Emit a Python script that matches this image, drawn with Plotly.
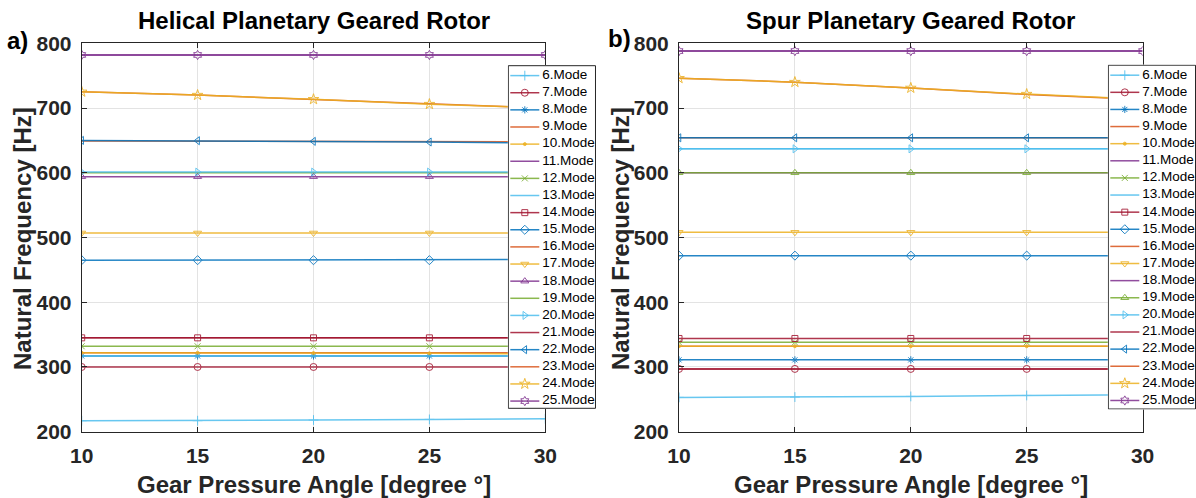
import plotly.graph_objects as go

W, H = 1196, 498

# Gear pressure angle samples [degree]
angles = [10, 15, 20, 25, 30]
mode_numbers = list(range(6, 26))

# Natural frequencies [Hz] - helical planetary geared rotor
helical_mode06 = [217, 217, 218, 219, 220]
helical_mode07 = [300, 300, 300, 300, 300]
helical_mode08 = [317, 317, 317, 317, 317]
helical_mode09 = [322, 322, 322, 322, 322]
helical_mode10 = [322, 322, 321.5, 321, 320]
helical_mode11 = [782, 782, 782, 782, 782]
helical_mode12 = [332, 332, 332, 332, 332]
helical_mode13 = [317, 317, 317, 317, 317]
helical_mode14 = [345, 345, 345, 345, 345]
helical_mode15 = [465, 465, 465, 465, 466]
helical_mode16 = [649, 649, 649, 648, 648]
helical_mode17 = [507, 507, 507, 507, 507]
helical_mode18 = [594, 594, 594, 594, 594]
helical_mode19 = [600, 600, 600, 600, 600]
helical_mode20 = [601, 601, 601, 601, 601]
helical_mode21 = [345, 345, 345, 345, 345]
helical_mode22 = [650, 649.5, 648.5, 647.5, 646]
helical_mode23 = [725, 720, 713, 706, 700]
helical_mode24 = [725, 720, 713.5, 706, 700]
helical_mode25 = [782, 782, 782, 782, 782]

# Natural frequencies [Hz] - spur planetary geared rotor
spur_mode06 = [253, 253.5, 254.5, 256, 257]
spur_mode07 = [297, 297, 297, 297, 297]
spur_mode08 = [311, 311, 311, 311, 311]
spur_mode09 = [332, 332, 332, 332, 332]
spur_mode10 = [332, 332, 332, 332, 332]
spur_mode11 = [788, 788, 788, 788, 788]
spur_mode12 = [338, 338, 338, 338, 338]
spur_mode13 = [637, 637, 637, 637, 637]
spur_mode14 = [344, 344, 344, 344, 344]
spur_mode15 = [472, 472, 472, 472, 472]
spur_mode16 = [654, 654, 654, 654, 654]
spur_mode17 = [508, 508, 508, 508, 508]
spur_mode18 = [600, 600, 600, 600, 600]
spur_mode19 = [600, 600, 600, 600, 600]
spur_mode20 = [637, 637, 637, 637, 637]
spur_mode21 = [297, 297, 297, 297, 297]
spur_mode22 = [654, 654, 654, 654, 654]
spur_mode23 = [746, 740, 731, 721, 713]
spur_mode24 = [746, 740, 731, 721.5, 713.5]
spur_mode25 = [788, 788, 788, 788, 788]

helical = [helical_mode06, helical_mode07, helical_mode08, helical_mode09, helical_mode10,
           helical_mode11, helical_mode12, helical_mode13, helical_mode14, helical_mode15,
           helical_mode16, helical_mode17, helical_mode18, helical_mode19, helical_mode20,
           helical_mode21, helical_mode22, helical_mode23, helical_mode24, helical_mode25]
spur = [spur_mode06, spur_mode07, spur_mode08, spur_mode09, spur_mode10,
        spur_mode11, spur_mode12, spur_mode13, spur_mode14, spur_mode15,
        spur_mode16, spur_mode17, spur_mode18, spur_mode19, spur_mode20,
        spur_mode21, spur_mode22, spur_mode23, spur_mode24, spur_mode25]

# Line colours cycle (MATLAB palette, starting at light blue)
palette = ["#4DBEEE", "#A2142F", "#0072BD", "#D95319", "#EDB120", "#7E2F8E", "#77AC30"]
colors = [palette[i % 7] for i in range(20)]

# Marker codes per mode (None = plain line)
markers_helical = ["+", "o", "*", None, ".", None, "x", None, "s", "d",
                   None, "v", "^", None, ">", None, "<", None, "p", "h"]
markers_spur = ["+", "o", "*", None, ".", None, "x", None, "s", "d",
                None, "v", None, "^", ">", None, "<", None, "p", "h"]

symbol_map = {
    "+": ("cross-thin-open", 7), "o": ("circle-open", 7), "*": ("asterisk-open", 6),
    ".": ("circle", 3), "x": ("x-thin-open", 6), "s": ("square-open", 6),
    "d": ("diamond-open", 7), "v": ("triangle-down-open", 7), "^": ("triangle-up-open", 7),
    ">": ("triangle-right-open", 7), "<": ("triangle-left-open", 7),
    "p": ("star-open", 8), "h": ("hexagram-open", 7),
}

FONT = "Liberation Sans"
AXCOL = "#262626"


def px_x(p):
    return p / W


def px_y(p):
    return 1 - p / H


fig = go.Figure()


def marker_style(code, color):
    if code is None:
        return dict(size=1, opacity=0), "lines"
    sym, size = symbol_map[code]
    return dict(symbol=sym, size=size, color=color, line=dict(color=color, width=1)), "lines+markers"


def add_panel(values, markers, xa, ya):
    for i, series in enumerate(values):
        mk, mode = marker_style(markers[i], colors[i])
        fig.add_trace(go.Scatter(
            x=angles, y=series, mode=mode, name=f"{mode_numbers[i]}.Mode",
            line=dict(color=colors[i], width=1.5), marker=mk, opacity=0.85,
            xaxis=xa, yaxis=ya, showlegend=False, cliponaxis=True,
        ))


add_panel(helical, markers_helical, "x", "y")
add_panel(spur, markers_spur, "x2", "y2")


def add_legend_box(markers, xa, ya, box, first_y, step):
    x0, y0, x1, y1 = box
    fig.add_trace(go.Scatter(
        x=[x0, x1, x1, x0, x0], y=[y0, y0, y1, y1, y0], mode="lines",
        fill="toself", fillcolor="white", line=dict(color=AXCOL, width=1),
        xaxis=xa, yaxis=ya, showlegend=False, hoverinfo="skip",
    ))
    for i in range(20):
        yy = first_y + i * step
        mk, mode = marker_style(markers[i], colors[i])
        fig.add_trace(go.Scatter(
            x=[x0 + 2, x0 + 31], y=[yy, yy], mode="lines",
            line=dict(color=colors[i], width=1.5), opacity=0.85,
            xaxis=xa, yaxis=ya, showlegend=False, hoverinfo="skip",
        ))
        if markers[i] is not None:
            fig.add_trace(go.Scatter(
                x=[x0 + 16.5], y=[yy], mode="markers", marker=mk, opacity=0.85,
                xaxis=xa, yaxis=ya, showlegend=False, hoverinfo="skip", cliponaxis=False,
            ))
    fig.add_trace(go.Scatter(
        x=[x0 + 34] * 20, y=[first_y + i * step for i in range(20)], mode="text",
        text=[f"{m}.Mode" for m in mode_numbers], textposition="middle right",
        textfont=dict(family=FONT, size=13.5, color="black"),
        xaxis=xa, yaxis=ya, showlegend=False, hoverinfo="skip", cliponaxis=False,
    ))


add_legend_box(markers_helical, "x3", "y3", (508.3, 65.7, 595.5, 408.3), 75.6, 17.13)
add_legend_box(markers_spur, "x4", "y4", (1108.3, 65.2, 1195.5, 409.0), 75.2, 17.12)

# Axes geometry (pixels)
left_px = (81.7, 545.3)
right_px = (679.0, 1142.6)
top_px, bottom_px = 43.3, 431.7

tick_font = dict(family=FONT, size=21, color=AXCOL, weight="bold")
common_x = dict(range=[10, 30], tickvals=angles, ticks="inside", ticklen=5, tickwidth=1,
                tickcolor=AXCOL, showline=True, linecolor=AXCOL, linewidth=1, mirror="ticks",
                showgrid=True, gridcolor="#E3E3E3", gridwidth=1, zeroline=False,
                tickfont=tick_font, fixedrange=True, ticklabelstandoff=5, automargin=False)
common_y = dict(range=[200, 800], tickvals=[200, 300, 400, 500, 600, 700, 800], ticks="inside",
                ticklen=5, tickwidth=1, tickcolor=AXCOL, showline=True, linecolor=AXCOL,
                linewidth=1, mirror="ticks", showgrid=True, gridcolor="#E3E3E3", gridwidth=1,
                zeroline=False, tickfont=tick_font, fixedrange=True, ticklabelstandoff=5,
                automargin=False)

hidden = dict(visible=False, showgrid=False, zeroline=False, fixedrange=True, automargin=False)

fig.update_layout(
    width=W, height=H, margin=dict(l=0, r=0, t=0, b=0, autoexpand=False),
    paper_bgcolor="white", plot_bgcolor="white", showlegend=False,
    xaxis=dict(domain=[px_x(left_px[0]), px_x(left_px[1])], anchor="y", **common_x),
    yaxis=dict(domain=[px_y(bottom_px), px_y(top_px)], anchor="x", **common_y),
    xaxis2=dict(domain=[px_x(right_px[0]), px_x(right_px[1])], anchor="y2", **common_x),
    yaxis2=dict(domain=[px_y(bottom_px), px_y(top_px)], anchor="x2", **common_y),
    xaxis3=dict(domain=[px_x(507.8), px_x(596.0)], range=[507.8, 596.0], anchor="y3", **hidden),
    yaxis3=dict(domain=[px_y(409.0), px_y(65.0)], range=[409.0, 65.0], anchor="x3", **hidden),
    xaxis4=dict(domain=[px_x(1107.8), px_x(1196.0)], range=[1107.8, 1196.0], anchor="y4", **hidden),
    yaxis4=dict(domain=[px_y(409.6), px_y(64.6)], range=[409.6, 64.6], anchor="x4", **hidden),
)

ann_font_title = dict(family=FONT, size=24, color="black", weight="bold")
ann_font_label = dict(family=FONT, size=24, color=AXCOL, weight="bold")

annotations = [
    dict(text="Helical Planetary Geared Rotor", x=px_x(sum(left_px) / 2), y=px_y(21),
         font=ann_font_title),
    dict(text="Spur Planetary Geared Rotor", x=px_x(sum(right_px) / 2), y=px_y(21),
         font=ann_font_title),
    dict(text="a)", x=px_x(17), y=px_y(40), font=ann_font_title),
    dict(text="b)", x=px_x(619), y=px_y(38), font=ann_font_title),
    dict(text="Gear Pressure Angle [degree °]", x=px_x(sum(left_px) / 2), y=px_y(484),
         font=ann_font_label),
    dict(text="Gear Pressure Angle [degree °]", x=px_x(sum(right_px) / 2), y=px_y(484),
         font=ann_font_label),
    dict(text="Natural Frequency [Hz]", x=px_x(22), y=px_y(239), textangle=-90,
         font=ann_font_label),
    dict(text="Natural Frequency [Hz]", x=px_x(620), y=px_y(239), textangle=-90,
         font=ann_font_label),
]
for a in annotations:
    a.update(xref="paper", yref="paper", xanchor="center", yanchor="middle", showarrow=False)
fig.update_layout(annotations=annotations)

fig.write_html("out.html")
